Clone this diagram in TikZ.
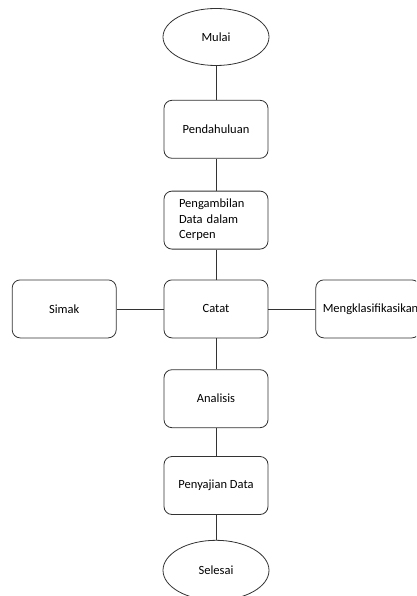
\documentclass[tikz,border=0pt]{standalone}
\usepackage{fontspec}
\setmainfont{Carlito}
\usepackage{xcolor}
\usepackage{tikz}
\usetikzlibrary{positioning, shapes.geometric}

\begin{document}
\begin{tikzpicture}[
    x=1pt, y=-1pt,
    node distance=30pt and 47pt,
    box/.style={
        draw=black!80,
        line width=0.8pt,
        rounded corners=8pt,
        align=center,
        font=\fontsize{12.5}{15.5}\selectfont,
        fill=white,
        minimum width=104pt,
        minimum height=58pt,
        inner sep=0pt
    },
    term/.style={
        draw=black!80,
        line width=0.8pt,
        ellipse,
        font=\fontsize{12.5}{15.5}\selectfont,
        fill=white,
        minimum width=106pt,
        minimum height=57pt,
        inner sep=0pt
    },
    link/.style={draw=black!80, line width=0.8pt}
]
\useasboundingbox (0,0) rectangle (416,596);
\clip (0,0) rectangle (416,596);

%  Main column 
\node[term] (mulai) at (216,37) {Mulai};
\node[box] (pendahuluan) [below=34pt of mulai] {Pendahuluan};
\node[box, align=left, text width=74pt, inner xsep=15pt] (pengambilan) [below=32pt of pendahuluan] {Pengambilan\\Data dalam\\Cerpen};
\node[box] (catat) [below=30pt of pengambilan] {Catat};
\node[box] (analisis) [below=31pt of catat] {Analisis};
\node[box] (penyajian) [below=28pt of analisis] {Penyajian Data};
\node[term, minimum height=60pt] (selesai) [below=25pt of penyajian] {Selesai};

%  Side nodes 
\node[box] (simak) [left=of catat] {Simak};
\node[box, align=left, text width=90pt, inner xsep=7pt] (klasifikasi) [right=of catat] {Mengklasifikasikan};

%  Lines 
\draw[link] (mulai) -- (pendahuluan);
\draw[link] (pendahuluan) -- (pengambilan);
\draw[link] (pengambilan) -- (catat);
\draw[link] (catat) -- (analisis);
\draw[link] (analisis) -- (penyajian);
\draw[link] (penyajian) -- (selesai);
\draw[link] (simak) -- (catat);
\draw[link] (catat) -- (klasifikasi);

\end{tikzpicture}
\end{document}
